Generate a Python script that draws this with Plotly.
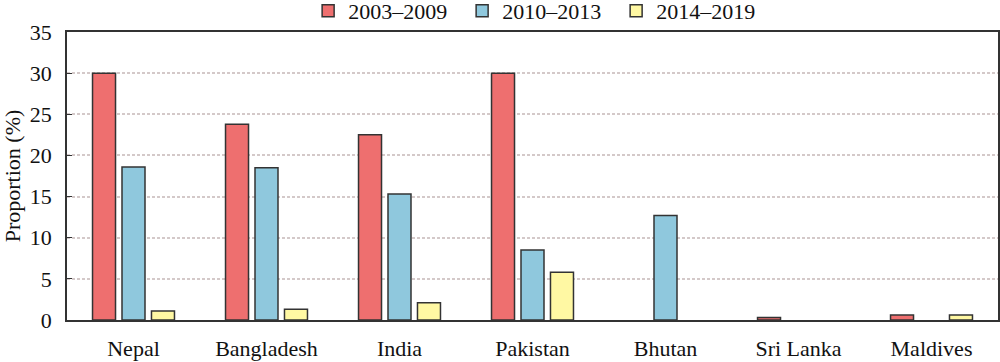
import plotly.graph_objects as go

countries = ["Nepal", "Bangladesh", "India", "Pakistan", "Bhutan", "Sri Lanka", "Maldives"]
p2003_2009 = [30.0, 23.8, 22.5, 30.0, None, 0.3, 0.6]
p2010_2013 = [18.6, 18.5, 15.3, 8.5, 12.7, None, None]
p2014_2019 = [1.1, 1.3, 2.1, 5.8, None, None, 0.6]
series_names = ["2003–2009", "2010–2013", "2014–2019"]
colors = ["#EE6F6F", "#8FC8DD", "#FFF8A3"]

fig = go.Figure()
for name, vals, col in zip(series_names, [p2003_2009, p2010_2013, p2014_2019], colors):
    fig.add_trace(go.Bar(
        x=countries, y=vals, name=name,
        marker=dict(color=col, line=dict(color="#333333", width=1.5)),
    ))

font = "Liberation Serif, Times New Roman, serif"
fig.update_layout(
    width=1000, height=362,
    margin=dict(l=67, r=2, t=32, b=42, autoexpand=False),
    plot_bgcolor="white", paper_bgcolor="white",
    font=dict(family=font, size=22, color="#111111"),
    barmode="group", bargap=0.335, bargroupgap=0.22,
    legend=dict(orientation="h", x=0.259, xanchor="left", yref="paper", y=1.0, yanchor="bottom",
                font=dict(size=22), itemwidth=30, tracegroupgap=0,
                entrywidth=109, entrywidthmode="pixels",
                bgcolor="rgba(0,0,0,0)"),
    showlegend=True,
)
fig.update_xaxes(
    showline=True, linecolor="#333333", linewidth=1.5, mirror=True,
    ticks="outside", ticklen=8, tickcolor="rgba(0,0,0,0)",
    showgrid=False, tickfont=dict(size=22),
)
fig.update_yaxes(
    range=[0, 35], dtick=5, showline=True, linecolor="#333333", linewidth=1.5, mirror=True,
    ticks="inside", ticklen=5, tickcolor="#333333", ticklabelstandoff=9,
    showgrid=True, gridcolor="#d4c9c9", griddash="3px,2px", gridwidth=1.5,
    zeroline=False,
    title=dict(text="Proportion (%)", font=dict(size=22), standoff=6),
    tickfont=dict(size=22),
)
fig.write_html("out.html", config={"displayModeBar": False},
               post_script="document.body.style.margin='0px';")
